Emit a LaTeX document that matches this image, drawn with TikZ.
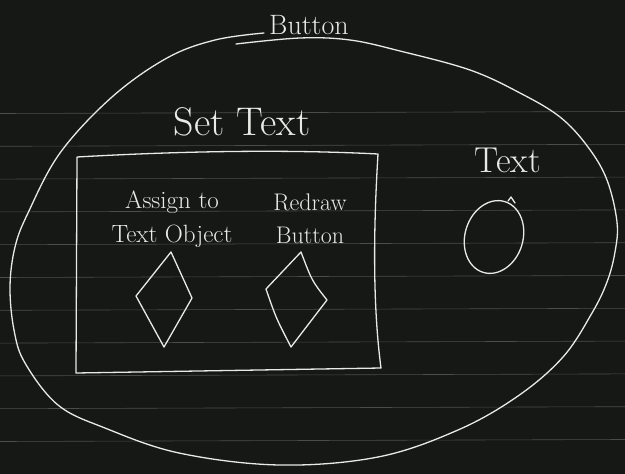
\documentclass[tikz,border=0pt]{standalone}
\usetikzlibrary{shapes.geometric}

\definecolor{pizarra}{RGB}{22,24,22}
\definecolor{tiza}{RGB}{232,234,230}
\definecolor{renglon}{RGB}{72,78,72}

\tikzset{
  trazo/.style={draw=tiza, line width=1.3pt, line cap=round, line join=round},
  rotulo/.style={text=tiza, inner sep=0pt}
}

\begin{document}
\begin{tikzpicture}[x=1pt, y=-1pt]
    % Fondo y renglones del papel
    \fill[pizarra] (0,0) rectangle (625,474);
    \useasboundingbox (0,0) rectangle (625,474);
    \foreach \k in {0,...,10}
      \draw[renglon, line width=0.6pt] (0,{113.5+32.8*\k}) -- (625,{111.5+32.8*\k});

    % Contorno grande del boton
    \draw[trazo] plot[smooth, tension=0.6] coordinates {
      (236,44) (300,38) (350,40) (400,51) (470,70) (520,93) (560,117)
      (588,147) (607,180) (617,222) (615,252) (607,282) (592,313)
      (563,357) (518,396) (458,430) (378,457) (279,465) (179,453)
      (105,428) (58,405) (25,363) (14,330) (10,287) (15,247) (28,213)
      (60,153) (112,97) (167,58) (215,40) (264,33)};
    \node[rotulo, font=\fontsize{28}{30}\selectfont] (boton) at (309,25) {Button};

    % Caja de Set Text
    \coordinate (si) at (77,157);
    \coordinate (sd) at (378,154);
    \coordinate (id) at (381,368);
    \coordinate (ii) at (76,373);
    \draw[trazo] (si) .. controls (200,150) and (300,150) .. (sd)
      .. controls (374,220) and (372,300) .. (id) -- (ii) -- cycle;
    \node[rotulo, font=\fontsize{40}{42}\selectfont] (settext) at (242,122) {Set Text};

    % Acciones dentro de la caja
    \node[rotulo, align=center, font=\fontsize{25}{34}\selectfont] (asignar) at (172,219)
      {Assign to\\Text Object};
    \node[rotulo, align=center, font=\fontsize{24}{33}\selectfont] (redibujar) at (310,219)
      {Redraw\\Button};

    % Rombos
    \coordinate (r1) at (171,252);
    \draw[trazo] (r1) -- (136,296) -- (164,347) -- (192,298) -- cycle;
    \coordinate (r2) at (301,252);
    \draw[trazo] (r2) -- (266,289) .. controls (276,318) .. (291,347)
      -- (327,300) .. controls (312,281) .. cycle;

    % Objeto de texto
    \node[rotulo, font=\fontsize{36}{38}\selectfont] (texto) at (508,160) {Text};
    \node[trazo, ellipse, minimum width=58pt, minimum height=74pt, rotate=-17,
      inner sep=0pt] (objeto) at (494,237) {};
    \draw[trazo] (508,201) -- (511,197) -- (515,203);
  \end{tikzpicture}
\end{document}
